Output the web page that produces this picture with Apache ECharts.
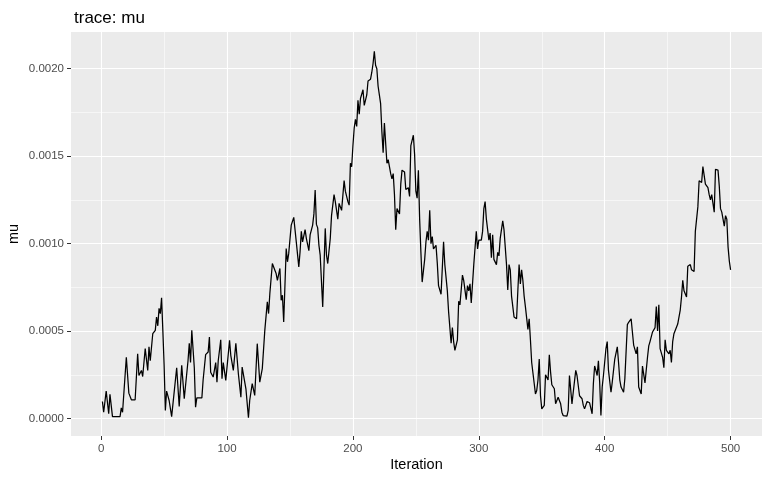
<!DOCTYPE html>
<html><head><meta charset="utf-8">
<script src="https://cdn.jsdelivr.net/npm/echarts@6/dist/echarts.min.js"></script>
<style>html,body{margin:0;padding:0;background:#fff}#c{width:768px;height:480px}</style>
</head><body><div id="c"></div>
<script>
// Iteration numbers and traced mu values (mu in units of 1e-4)
const iterations = [1,2,4,6,7,9,15,16,17,20,22,24,27,29,30,32,33,35,37,38,39,41,43,44,45,46,47,48,49,50,
51,52,54,56,57,60,62,64,65,66,69,70,71,72,74,75,76,80,81,83,85,86,87,89,91,92,93,95,96,97,99,
102,103,105,107,109,111,112,115,117,118,120,122,124,126,128,130,132,133,134,135,136,138,139,140,142,143,144,145,147,148,149,
151,152,153,155,157,158,159,160,162,163,165,166,168,169,170,171,172,173,174,176,178,179,180,182,183,185,186,188,189,191,193,194,196,197,198,199,
200,201,202,203,204,205,206,207,208,209,211,212,214,215,216,217,218,219,220,221,222,223,224,225,226,227,228,229,230,231,232,233,234,235,237,238,239,241,242,243,244,245,246,248,249,
250,251,252,253,254,255,257,258,259,260,261,262,263,264,266,267,268,270,272,273,275,276,278,279,280,281,283,284,285,287,288,289,290,291,292,293,294,296,297,298,299,
300,302,303,304,305,306,308,309,310,311,312,314,315,316,317,319,320,322,323,324,325,326,327,328,330,331,332,333,334,335,336,337,339,340,341,342,343,344,345,346,347,348,349,
350,352,353,354,355,356,357,358,360,361,362,363,365,366,367,368,370,371,372,374,375,376,377,378,379,380,382,383,384,385,386,388,389,390,391,392,393,394,395,396,397,398,399,
401,402,403,405,406,408,410,411,412,413,415,416,418,419,421,422,423,425,426,427,429,430,431,432,434,435,436,438,439,440,441,442,443,444,446,447,448,449,
450,451,452,453,454,455,456,458,459,460,461,462,463,464,465,466,467,468,469,470,471,472,473,474,475,476,477,478,479,480,481,482,483,484,485,486,487,488,489,490,491,492,493,494,495,496,497,498,499,500];
const muE4 = [0.97,0.36,1.57,0.27,1.38,0.11,0.11,0.61,0.36,3.5,1.45,1.07,1.07,3.7,2.46,2.75,2.4,4.0,2.75,4.1,3.3,4.85,5.04,5.8,5.3,6.3,6.0,6.9,5.04,3.1,
0.46,1.57,1.03,0.11,0.11,2.9,0.69,3.04,3.04,1.13,3.3,4.3,3.2,5.04,2.9,0.65,1.18,1.18,2.2,3.65,3.8,4.66,2.65,2.37,3.2,2.08,3.3,4.5,2.27,3.2,2.18,
4.47,3.6,2.75,4.3,2.56,1.22,2.94,1.7,0.04,1.03,1.99,1.32,4.28,2.08,2.85,5.04,6.67,6.0,7.14,7.05,8.86,8.48,8.29,7.9,8.58,6.76,7.05,5.52,9.72,8.96,9.44,
11.06,11.15,11.5,10.1,8.67,9.53,10.7,10.1,10.8,10.3,9.6,10.5,11.06,11.7,13.06,11.1,10.9,9.9,9.34,6.38,10.87,9.34,8.86,10.3,11.6,12.8,12.4,11.4,12.3,11.9,13.6,13.0,12.4,12.2,14.6,14.4,
15.6,16.6,17.1,16.7,18.2,17.4,18.3,18.4,18.8,17.9,18.5,19.3,19.4,19.8,20.3,21.0,20.2,20.0,19.0,18.5,18.0,16.4,15.2,16.9,16.8,14.6,14.8,14.7,14.0,13.7,14.0,12.8,10.8,12.0,11.7,13.4,14.2,14.1,13.1,13.2,13.2,12.7,15.6,16.2,15.1,
13.0,12.6,14.2,11.4,9.5,7.8,9.1,10.1,10.7,10.2,11.9,10.0,10.4,9.7,9.9,8.9,7.6,7.1,10.1,8.8,7.3,6.1,4.3,5.2,4.4,3.9,4.5,6.7,6.5,8.2,7.9,7.9,6.8,7.6,7.3,7.7,6.6,8.8,8.8,10.7,9.7,
10.2,10.2,10.7,12.0,12.4,11.4,10.2,10.6,9.2,10.5,9.1,8.8,9.5,9.3,10.3,11.3,10.8,8.8,7.35,8.8,8.5,7.0,7.0,5.8,5.7,7.3,8.8,7.7,8.5,7.9,7.0,6.4,5.1,5.7,4.5,3.2,2.6,2.0,1.4,1.6,2.2,3.4,1.3,
0.55,0.75,2.5,2.5,2.2,3.65,2.65,1.93,1.7,0.84,0.84,1.22,0.84,0.36,0.17,0.27,0.13,0.46,2.46,0.84,1.5,1.5,2.75,2.46,2.5,1.3,1.13,0.75,0.55,0.55,0.97,0.9,0.94,0.27,2.0,3.0,2.75,2.46,3.3,2.08,0.17,1.8,2.46,
4.0,4.4,2.75,1.5,2.08,3.4,4.1,3.2,2.2,1.8,1.5,2.27,5.37,5.5,5.7,4.95,4.2,3.7,4.1,1.8,1.4,3.0,3.0,2.04,3.5,4.15,4.4,4.95,4.95,5.2,6.4,5.0,6.5,4.0,3.5,2.9,4.5,3.9,
3.9,3.7,3.9,3.2,4.4,4.85,4.85,5.4,5.8,6.2,6.95,7.9,7.3,7.4,6.95,8.7,8.7,8.8,8.5,8.4,8.4,10.7,10.8,12.1,13.6,13.6,13.5,14.4,14.4,13.4,13.35,13.2,12.8,12.5,12.8,12.7,11.8,14.25,14.2,14.2,13.3,12.0,11.8,11.4,11.0,11.6,11.4,9.8,9.0,8.5];
const xTicks = [0,100,200,300,400,500];
const xMinor = [50,150,250,350,450];
const yTicks = [0,0.0005,0.001,0.0015,0.002];
const yMinor = [0.00025,0.00075,0.00125,0.00175];

const traceData = iterations.map((it, i) => [it, muE4[i] * 1e-4]);
const font = 'Liberation Sans, Arial, sans-serif';
const major = {color:'#FFFFFF', width:1.1, type:'solid'};
const minor = {color:'#FFFFFF', width:0.55, type:'solid'};
const gridLines = []
  .concat(xMinor.map(v => ({xAxis:v, lineStyle:minor})))
  .concat(yMinor.map(v => ({yAxis:v, lineStyle:minor})))
  .concat(xTicks.map(v => ({xAxis:v, lineStyle:major})))
  .concat(yTicks.map(v => ({yAxis:v, lineStyle:major})));

const chart = echarts.init(document.getElementById('c'), null, {renderer:'canvas'});
chart.setOption({
  animation:false,
  backgroundColor:'#FFFFFF',
  textStyle:{fontFamily:font},
  title:{text:'trace: mu', left:69, top:5, textStyle:{fontFamily:font, fontSize:17, fontWeight:'normal', color:'#000000'}},
  grid:{left:71, right:6, top:32, bottom:44, show:true, backgroundColor:'#EBEBEB', borderWidth:0,
    containLabel:false, outerBoundsMode:'none'},
  xAxis:{type:'value', min:-23.95, max:524.95,
    name:'Iteration', nameLocation:'middle', nameGap:21, nameMoveOverlap:false,
    nameTextStyle:{fontFamily:font, fontSize:14.5, color:'#000000'},
    axisLine:{show:false, onZero:false},
    axisTick:{show:true, length:4, lineStyle:{color:'#333333', width:1}, customValues:xTicks},
    axisLabel:{customValues:xTicks, margin:7, fontSize:11.5, color:'#4D4D4D', fontFamily:font},
    splitLine:{show:false}},
  yAxis:{type:'value', min:-0.0001, max:0.00221,
    name:'mu', nameLocation:'middle', nameGap:50, nameRotate:90, nameMoveOverlap:false,
    nameTextStyle:{fontFamily:font, fontSize:14.5, color:'#000000'},
    axisLine:{show:false, onZero:false},
    axisTick:{show:true, length:4, lineStyle:{color:'#333333', width:1}, customValues:yTicks},
    axisLabel:{customValues:yTicks, margin:7, fontSize:11.5, color:'#4D4D4D', fontFamily:font,
      formatter: v => v.toFixed(4)},
    splitLine:{show:false}},
  series:[
    {type:'line', data:traceData, z:1, silent:true, showSymbol:false, symbol:'none',
      lineStyle:{opacity:0, width:0},
      markLine:{silent:true, precision:8, symbol:['none','none'], label:{show:false}, z:1, animation:false, data:gridLines}},
    {type:'line', data:traceData, z:3, showSymbol:false, symbol:'none',
      lineStyle:{color:'#000000', width:1.25}, itemStyle:{color:'#000000'}}
  ]
});
</script></body></html>
